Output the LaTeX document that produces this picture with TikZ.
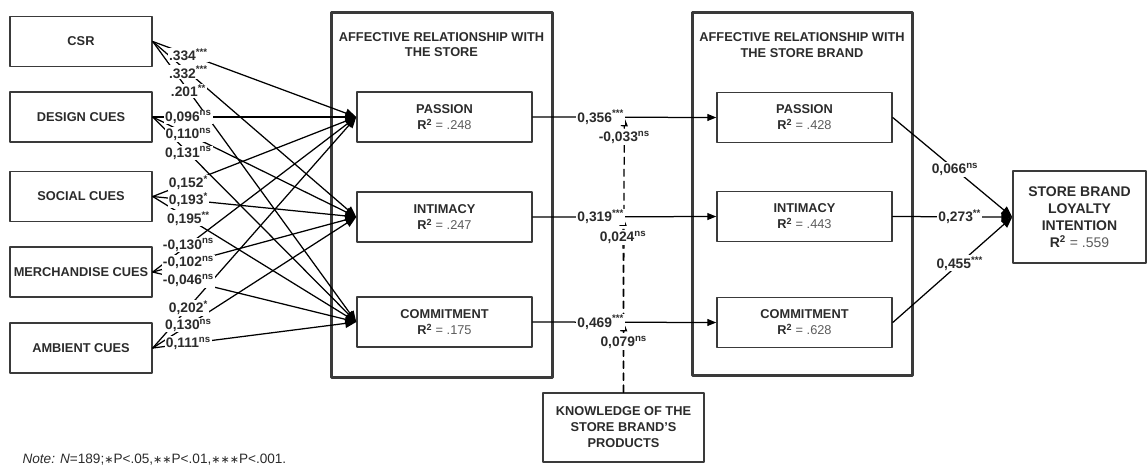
\documentclass[tikz,border=0pt]{standalone}
\usepackage{fontspec}
\setmainfont{Liberation Sans}
\newfontfamily\symfont{DejaVu Sans}
\usetikzlibrary{arrows.meta,calc,positioning}
\definecolor{boxline}{HTML}{3A3A3A}
\definecolor{boxtext}{HTML}{2B2B2B}
\definecolor{rtext}{HTML}{5C5C5C}
\newcommand{\rsq}[1]{{\bfseries R\textsuperscript{2}} {\mdseries\color{rtext}= #1}}
\newcommand{\sigast}{{\symfont\fontsize{11}{14}\selectfont ∗}}
\begin{document}
\begin{tikzpicture}[x=1pt,y=-1pt,line cap=round,line join=round,
  cue/.style={draw=boxline,line width=1.5pt,minimum width=142pt,minimum height=50pt,inner sep=0pt,
    font=\fontsize{12.8}{15}\selectfont\bfseries,text=boxtext},
  factor/.style={draw=boxline,line width=1.5pt,minimum width=175pt,minimum height=50pt,inner sep=0pt,
    align=center,font=\fontsize{12.8}{16}\selectfont\bfseries,text=boxtext},
  group/.style={draw=boxline,line width=3pt},
  title/.style={align=center,font=\fontsize{12.8}{15.5}\selectfont\bfseries,text=boxtext},
  link/.style={line width=1.25pt,-{Triangle[length=11pt,width=9pt]}},
  mid/.style={line width=1.25pt,-{Triangle[length=9pt,width=7pt]}},
  modr/.style={line width=1.25pt,dash pattern=on 7pt off 5pt,-{Triangle[length=9pt,width=7pt]}},
  coef/.style={fill=white,inner sep=1pt,font=\fontsize{13.8}{15}\selectfont\bfseries,text=boxtext}]
\useasboundingbox (0,0) rectangle (1147,467);
% antecedents
\node[cue] (csr) at (81,41.5) {CSR};
\node[cue] (design) at (81,117) {DESIGN CUES};
\node[cue] (social) at (81,196.5) {SOCIAL CUES};
\node[cue] (merch) at (81,272) {MERCHANDISE CUES};
\node[cue] (ambient) at (81,348) {AMBIENT CUES};
% relationship with the store
\draw[group] (331,12) rectangle (552,377);
\node[title] (ttlstore) at (441.5,44.5) {AFFECTIVE RELATIONSHIP WITH\\THE STORE};
\node[factor] (spass) at (444.5,117) {PASSION\\\rsq{.248}};
\node[factor] (sint) at (444.5,217) {INTIMACY\\\rsq{.247}};
\node[factor] (scom) at (444.5,322) {COMMITMENT\\\rsq{.175}};
% relationship with the store brand
\draw[group] (692,12) rectangle (912,375);
\node[title] (ttlbrand) at (802,45) {AFFECTIVE RELATIONSHIP WITH\\THE STORE BRAND};
\node[factor] (bpass) at (804.5,117.5) {PASSION\\\rsq{.428}};
\node[factor] (bint) at (804.5,216.5) {INTIMACY\\\rsq{.443}};
\node[factor] (bcom) at (804.5,322.5) {COMMITMENT\\\rsq{.628}};
% outcome and moderator
\node[factor,minimum width=133pt,minimum height=92pt,font=\fontsize{14}{17}\selectfont\bfseries] (loyal) at (1079.5,217) {STORE BRAND\\LOYALTY\\INTENTION\\\rsq{.559}};
\node[factor,minimum width=161pt,minimum height=69pt] (know) at (623.5,427.5) {KNOWLEDGE OF THE\\STORE BRAND'S\\PRODUCTS};
\node[anchor=west,font=\fontsize{13.6}{15}\selectfont,text=boxtext] (note) at (19,460) {\textit{Note:} \textit{N}=189;\sigast P<.05,\sigast\sigast P<.01,\sigast\sigast\sigast P<.001.};
% cue paths
\foreach \src in {csr,design,social,merch,ambient}
  \foreach \dst in {spass,sint,scom}
    \draw[link] (\src.east) -- (\dst.west);
\foreach \src/\dst/\val in {csr/spass/{.334\textsuperscript{***}},csr/sint/{.332\textsuperscript{***}},csr/scom/{.201\textsuperscript{**}},
  design/spass/{0{,}096\textsuperscript{ns}},design/sint/{0{,}110\textsuperscript{ns}},design/scom/{0{,}131\textsuperscript{ns}},
  social/spass/{0{,}152\textsuperscript{*}},social/sint/{0{,}193\textsuperscript{*}},social/scom/{0{,}195\textsuperscript{**}},
  merch/spass/{-0{,}130\textsuperscript{ns}},merch/sint/{-0{,}102\textsuperscript{ns}},merch/scom/{-0{,}046\textsuperscript{ns}},
  ambient/spass/{0{,}202\textsuperscript{*}},ambient/sint/{0{,}130\textsuperscript{ns}},ambient/scom/{0{,}111\textsuperscript{ns}}}
  \node[coef] at ($(\src.east)!.175!(\dst.west)$) {\val};
% moderation
\coordinate (mpass) at ($(spass.east)!(know.north)!(bpass.west)$);
\coordinate (mint) at ($(sint.east)!(know.north)!(bint.west)$);
\coordinate (mcom) at ($(scom.east)!(know.north)!(bcom.west)$);
\foreach \m in {mpass,mint,mcom}
  \draw[modr] (know.north) -- (\m);
\node[coef,below=13pt of mpass] (kpass) {-0{,}033\textsuperscript{ns}};
\node[coef,below=13pt of mint] (kint) {0{,}024\textsuperscript{ns}};
\node[coef,below=13pt of mcom] (kcom) {0{,}079\textsuperscript{ns}};
% store to store brand
\draw[mid] (spass.east) -- node[coef,pos=.37]{0{,}356\textsuperscript{***}} (bpass.west);
\draw[mid] (sint.east) -- node[coef,pos=.37]{0{,}319\textsuperscript{***}} (bint.west);
\draw[mid] (scom.east) -- node[coef,pos=.37]{0{,}469\textsuperscript{***}} (bcom.west);
% store brand to loyalty
\draw[link] (bpass.east) -- node[coef,pos=.52]{0{,}066\textsuperscript{ns}} (loyal.west);
\draw[link] (bint.east) -- node[coef,pos=.56]{0{,}273\textsuperscript{**}} (loyal.west);
\draw[link] (bcom.east) -- node[coef,pos=.56]{0{,}455\textsuperscript{***}} (loyal.west);
\end{tikzpicture}
\end{document}
